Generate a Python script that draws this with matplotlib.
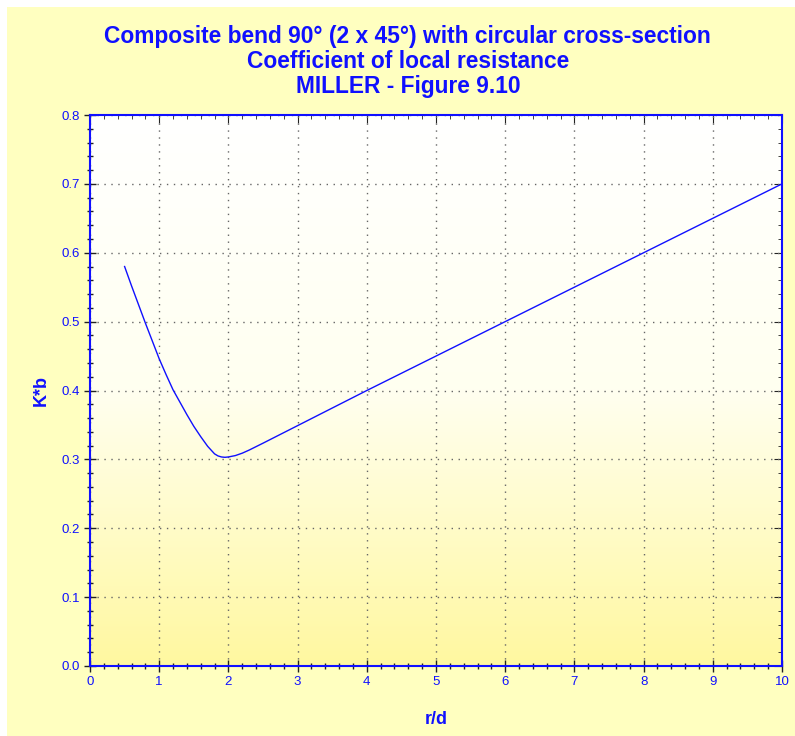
import numpy as np
import matplotlib.pyplot as plt
from matplotlib.patches import Rectangle
from matplotlib.ticker import MultipleLocator
from matplotlib.colors import LinearSegmentedColormap

# r/d vs K*b
r_d = [0.5, 0.6, 0.7, 0.8, 0.9, 1.0, 1.1, 1.2, 1.3, 1.4, 1.5, 1.6, 1.7, 1.8, 1.85,
       1.9, 1.95, 2.0, 2.1, 2.2, 2.3, 2.5, 3.0, 4.0, 5.0, 6.0, 7.0, 8.0, 9.0, 10.0]
k_b = [0.580, 0.552, 0.525, 0.498, 0.472, 0.446, 0.423, 0.401, 0.383, 0.365, 0.348,
       0.333, 0.319, 0.308, 0.305, 0.3035, 0.303, 0.3035, 0.3055, 0.309, 0.3135, 0.3235,
       0.349, 0.400, 0.450, 0.500, 0.550, 0.600, 0.650, 0.700]

blue = '#1010ff'
yellow = '#ffffc0'
plt.rcParams['font.family'] = ['Liberation Sans', 'DejaVu Sans']

fig = plt.figure(figsize=(7.95, 7.36), dpi=100)
fig.patch.set_facecolor('white')
fig.patches.append(Rectangle((7 / 795, 0), 1, 1 - 7 / 736, transform=fig.transFigure,
                             facecolor=yellow, edgecolor='none', zorder=-10))

ax = fig.add_axes([90 / 795, 70 / 736, 692 / 795, 551 / 736])
ax.set_facecolor('none')

# white-to-yellow gradient in the plot area
grad = np.linspace(0, 1, 256).reshape(-1, 1)
cmap = LinearSegmentedColormap.from_list('wy', ['#fff8a0', '#fffff0', '#ffffff'])
ax.imshow(grad, cmap=cmap, aspect='auto', extent=[0, 1, 0, 1], origin='lower',
          transform=ax.transAxes, zorder=0)

ax.plot(r_d, k_b, color=blue, lw=1.0, zorder=3)

ax.set_xlim(0, 10)
ax.set_ylim(0, 0.8)
ax.xaxis.set_major_locator(MultipleLocator(1))
ax.xaxis.set_minor_locator(MultipleLocator(0.2))
ax.yaxis.set_major_locator(MultipleLocator(0.1))
ax.yaxis.set_minor_locator(MultipleLocator(0.02))
ax.yaxis.set_major_formatter(plt.FormatStrFormatter('%.1f'))

ax.grid(True, which='major', color='#666666', linestyle=(0, (1, 4)), lw=1.0, zorder=1)
ax.tick_params(which='both', direction='inout', colors='#222222',
               labelcolor=blue, labelsize=9.5)
ax.tick_params(which='major', length=8, width=1)
ax.tick_params(which='minor', length=5, width=1)
for side in ['top', 'right', 'left', 'bottom']:
    ax.spines[side].set_color(blue)
    ax.spines[side].set_linewidth(1.5)

# inward ticks on top and right
top = ax.secondary_xaxis('top')
top.xaxis.set_major_locator(MultipleLocator(1))
top.xaxis.set_minor_locator(MultipleLocator(0.2))
top.tick_params(which='both', direction='in', colors='#222222', labeltop=False)
top.tick_params(which='major', length=6)
top.tick_params(which='minor', length=3)
top.spines['top'].set_visible(False)
right = ax.secondary_yaxis('right')
right.yaxis.set_major_locator(MultipleLocator(0.1))
right.yaxis.set_minor_locator(MultipleLocator(0.02))
right.tick_params(which='both', direction='in', colors='#222222', labelright=False)
right.tick_params(which='major', length=6)
right.tick_params(which='minor', length=3)
right.spines['right'].set_visible(False)

ax.set_xlabel('r/d', color=blue, fontsize=13, fontweight='bold', labelpad=16)
ax.set_ylabel('K*b', color=blue, fontsize=13, fontweight='bold', labelpad=8)

title_kw = dict(ha='center', va='center', color=blue, fontsize=16.4, fontweight='bold')
fig.text(0.513, 0.951, 'Composite bend 90° (2 x 45°) with circular cross-section', **title_kw)
fig.text(0.513, 0.917, 'Coefficient of local resistance', **title_kw)
fig.text(0.513, 0.882, 'MILLER - Figure 9.10', **title_kw)

fig.savefig('out.png', dpi=100, facecolor=fig.get_facecolor())
